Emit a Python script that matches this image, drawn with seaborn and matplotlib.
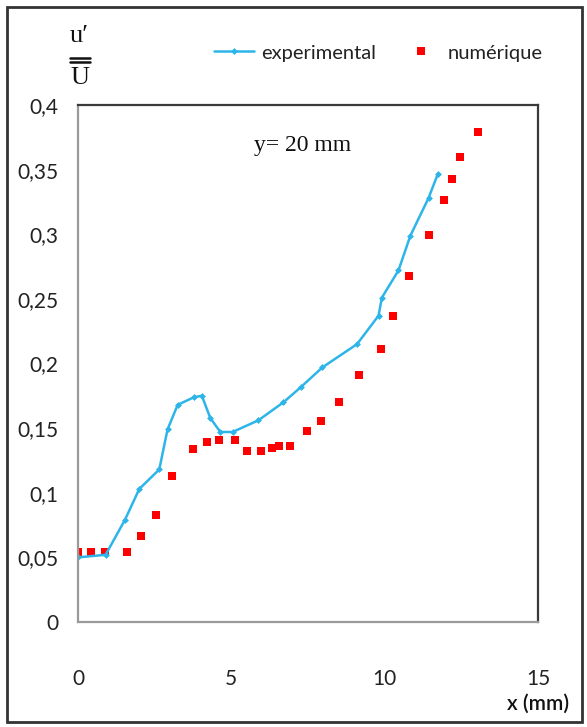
import matplotlib
matplotlib.use("Agg")
import matplotlib.pyplot as plt
import seaborn as sns
import pandas as pd
from matplotlib.lines import Line2D
from matplotlib.patches import Rectangle

# ---------------- data ----------------
exp_x = [0.0, 0.9, 1.53, 2.0, 2.65, 2.92, 3.25, 3.79, 4.04, 4.31, 4.64, 5.04,
         5.88, 6.70, 7.28, 7.97, 9.10, 9.80, 9.91, 10.45, 10.84, 11.43, 11.74]
exp_y = [0.050, 0.052, 0.079, 0.103, 0.118, 0.149, 0.168, 0.174, 0.175, 0.158,
         0.147, 0.147, 0.156, 0.170, 0.182, 0.197, 0.215, 0.237, 0.251, 0.272,
         0.299, 0.328, 0.347]

num_x = [0.0, 0.44, 0.88, 1.59, 2.06, 2.55, 3.08, 3.74, 4.22, 4.60, 5.12, 5.51,
         5.98, 6.31, 6.54, 6.90, 7.46, 7.93, 8.50, 9.15, 9.88, 10.27, 10.79,
         11.45, 11.93, 12.20, 12.47, 13.04]
num_y = [0.0544, 0.0544, 0.0544, 0.0544, 0.0665, 0.0828, 0.1132, 0.1336, 0.139,
         0.1408, 0.1408, 0.1326, 0.1326, 0.1344, 0.1362, 0.1362, 0.148, 0.1555,
         0.1704, 0.191, 0.211, 0.2367, 0.268, 0.2994, 0.3265, 0.3427, 0.3595,
         0.3793]

y_ticks = [0, 0.05, 0.1, 0.15, 0.2, 0.25, 0.3, 0.35, 0.4]
y_tick_labels = ["0", "0,05", "0,1", "0,15", "0,2", "0,25", "0,3", "0,35", "0,4"]
x_ticks = [0, 5, 10, 15]
x_tick_labels = ["0", "5", "10", "15"]

series_labels = ["experimental", "numérique"]
annotation = "y= 20 mm"
x_label = "x (mm)"

# ---------------- style ----------------
sns.set_theme(style="white")
SANS = ["Lato", "DejaVu Sans"]
SERIF = ["Liberation Serif", "DejaVu Serif"]
plt.rcParams["font.family"] = SANS

W, H = 587, 727
fig = plt.figure(figsize=(W / 100, H / 100), dpi=100)
fig.patch.set_facecolor("white")

def fx(px):
    return px / W

def fy(py):
    return 1 - py / H

ax = fig.add_axes([fx(78), fy(622), fx(538) - fx(78), fy(105) - fy(622)])

df_exp = pd.DataFrame({"x": exp_x, "y": exp_y})
df_num = pd.DataFrame({"x": num_x, "y": num_y})

blue = "#2DB5EA"
red = "#FF0000"

sns.lineplot(data=df_exp, x="x", y="y", ax=ax, sort=False, color=blue,
             linewidth=1.8, marker="D", markersize=3.5, markeredgewidth=0,
             label=series_labels[0])
sns.scatterplot(data=df_num, x="x", y="y", ax=ax, color=red, marker="s",
                s=28, linewidth=0, label=series_labels[1])

ax.set_xlim(0, 15)
ax.set_ylim(0, 0.4)
ax.set_xticks(x_ticks)
ax.set_xticklabels(x_tick_labels)
ax.set_yticks(y_ticks)
ax.set_yticklabels(y_tick_labels)
ax.tick_params(axis="x", length=0, pad=34, labelsize=15, colors="#222222")
ax.tick_params(axis="y", length=0, pad=14, labelsize=15, colors="#222222")
ax.set_xlabel("")
ax.set_ylabel("")

for side in ["left", "bottom"]:
    ax.spines[side].set_color("#9a9a9a")
    ax.spines[side].set_linewidth(1.6)
for side in ["top", "right"]:
    ax.spines[side].set_color("#3a3a3a")
    ax.spines[side].set_linewidth(1.6)

# legend on top
handles = [
    Line2D([], [], color=blue, linewidth=1.8, marker="D", markersize=3.5,
           markeredgewidth=0),
    Line2D([], [], color=red, linestyle="none", marker="s", markersize=5.5,
           markeredgewidth=0),
]
ax.legend(handles, series_labels, ncol=2, loc="center left",
          bbox_to_anchor=(fx(214), fy(53)), bbox_transform=fig.transFigure,
          frameon=False, fontsize=14.5, handlelength=2.0, handletextpad=0.35,
          columnspacing=1.2, borderpad=0, borderaxespad=0,
          labelcolor="#222222")

# annotation
fig.text(fx(303), fy(145), annotation, family=SERIF, fontsize=17,
         ha="center", va="center", color="#111111")

# x label
fig.text(fx(538), fy(704), x_label, fontsize=15, ha="center", va="center",
         color="#111111", fontweight="semibold")

# y label: u' over double bar over U
fig.text(fx(79), fy(36), "u′", family=SERIF, fontsize=19, ha="center",
         va="center", color="#111111")
fig.add_artist(Line2D([fx(70), fx(90)], [fy(57.5), fy(57.5)],
                      transform=fig.transFigure, color="#111111", linewidth=1.8))
fig.add_artist(Line2D([fx(70), fx(90)], [fy(61.5), fy(61.5)],
                      transform=fig.transFigure, color="#111111", linewidth=1.8))
fig.text(fx(80), fy(78), "U", family=SERIF, fontsize=19, ha="center",
         va="center", color="#111111")

# outer frame
fig.add_artist(Rectangle((fx(7), fy(722)), fx(582) - fx(7), fy(7) - fy(722),
                         transform=fig.transFigure, fill=False,
                         edgecolor="#333333", linewidth=2))

fig.savefig("out.png", dpi=100)
